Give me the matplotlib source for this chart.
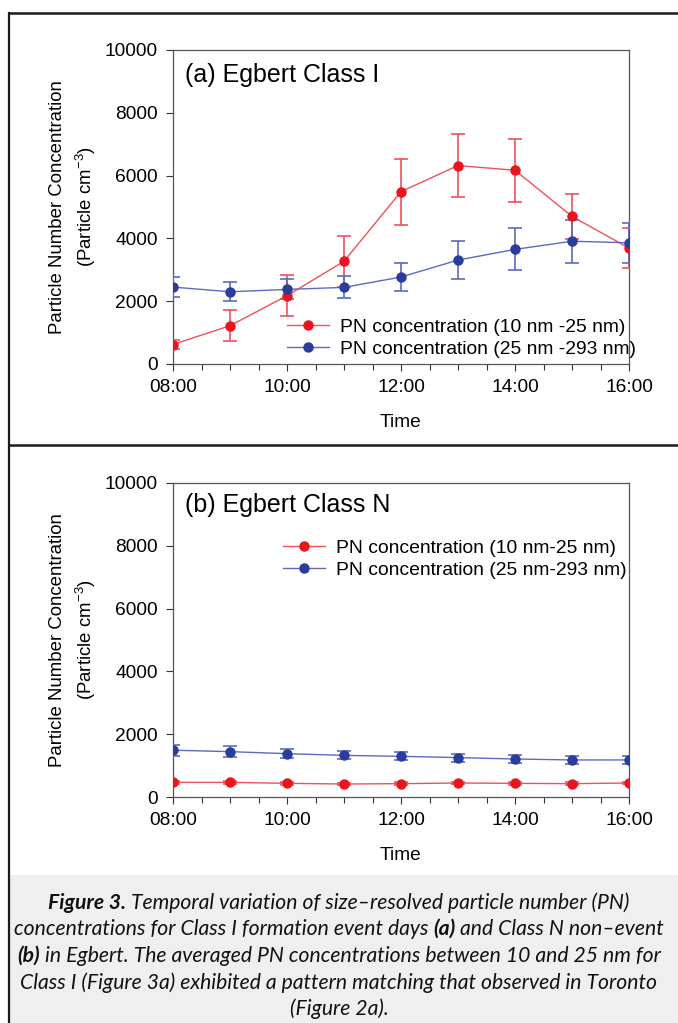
import matplotlib
matplotlib.use("Agg")
import matplotlib.pyplot as plt
from matplotlib.lines import Line2D
from matplotlib.patches import Rectangle
from matplotlib.ticker import MultipleLocator

plt.rcParams['font.family'] = ['Liberation Sans', 'DejaVu Sans']
plt.rcParams['mathtext.fontset'] = 'custom'
plt.rcParams['mathtext.rm'] = 'Liberation Sans'
plt.rcParams['mathtext.it'] = 'Liberation Sans:italic'

# hours of the day
hours = [8, 9, 10, 11, 12, 13, 14, 15, 16]
tick_hours = [8, 10, 12, 14, 16]
tick_labels = ['08:00', '10:00', '12:00', '14:00', '16:00']

# (a) Class I event days
a_small = [620, 1220, 2175, 3270, 5490, 6320, 6170, 4700, 3690]
a_small_err = [130, 490, 660, 820, 1050, 1000, 1010, 720, 640]
a_large = [2450, 2300, 2375, 2440, 2770, 3310, 3650, 3910, 3860]
a_large_err = [320, 300, 320, 350, 440, 600, 670, 680, 640]

# (b) Class N non-event days
b_small = [467, 467, 435, 414, 425, 446, 435, 425, 446]
b_small_err = [40, 40, 40, 40, 40, 40, 40, 40, 40]
b_large = [1490, 1445, 1380, 1325, 1295, 1255, 1210, 1180, 1180]
b_large_err = [180, 170, 150, 130, 130, 130, 130, 130, 140]

RED, RED_L = '#e8141e', '#f0505a'
BLUE, BLUE_L = '#2a3c9c', '#5b6bc0'

W, H = 678, 1023
fig = plt.figure(figsize=(W / 100, H / 100), dpi=100)


def panel(rect, small, small_err, large, large_err, title, title_y, labels, leg_anchor):
    ax = fig.add_axes(rect)
    ax.errorbar(hours, small, yerr=small_err, color=RED_L, lw=1.0, capsize=5,
                elinewidth=1.2, capthick=1.2, marker='o', ms=6.5,
                mfc=RED, mec=RED, zorder=3)
    ax.errorbar(hours, large, yerr=large_err, color=BLUE_L, lw=1.0, capsize=5,
                elinewidth=1.2, capthick=1.2, marker='o', ms=6.5,
                mfc=BLUE, mec=BLUE, zorder=3)
    ax.set_xlim(8, 16)
    ax.set_ylim(0, 10000)
    ax.set_xticks(tick_hours)
    ax.set_xticklabels(tick_labels)
    ax.xaxis.set_minor_locator(MultipleLocator(0.5))
    ax.set_yticks(range(0, 10001, 2000))
    ax.tick_params(axis='both', which='both', direction='out', colors='#333333',
                   labelcolor='black', labelsize=13.8, width=0.8)
    ax.tick_params(axis='both', which='major', length=5, pad=6)
    ax.tick_params(axis='x', which='minor', length=4)
    for s in ax.spines.values():
        s.set_color('#555555')
        s.set_linewidth(0.9)
    ax.set_xlabel('Time', fontsize=13.8, labelpad=13)
    ax.set_ylabel('Particle Number Concentration\n(Particle cm$^{-3}$)',
                  fontsize=13.4, labelpad=5, linespacing=1.4)
    ax.text(0.026, title_y, title, transform=ax.transAxes, fontsize=18,
            va='center', ha='left')
    handles = [Line2D([], [], color=RED_L, marker='o', mfc=RED, mec=RED, ms=6.5, lw=1.0),
               Line2D([], [], color=BLUE_L, marker='o', mfc=BLUE, mec=BLUE, ms=6.5, lw=1.0)]
    ax.legend(handles, labels, loc='upper left', bbox_to_anchor=leg_anchor,
              frameon=False, fontsize=13.9, handlelength=2.2, handletextpad=0.55,
              labelspacing=0.25, borderpad=0, borderaxespad=0)
    return ax


panel([173 / W, 1 - 364 / H, 456 / W, 314 / H], a_small, a_small_err, a_large, a_large_err,
      '(a) Egbert Class I', 0.92,
      ['PN concentration (10 nm -25 nm)', 'PN concentration (25 nm -293 nm)'],
      ((287 - 173) / 456, (364 - 318) / 314))
panel([173 / W, 1 - 797 / H, 456 / W, 314 / H], b_small, b_small_err, b_large, b_large_err,
      '(b) Egbert Class N', 0.93,
      ['PN concentration (10 nm-25 nm)', 'PN concentration (25 nm-293 nm)'],
      ((283 - 173) / 456, (797 - 539) / 314))

# frame lines and caption box
fig.add_artist(Rectangle((9 / W, 0), 1, 1 - 875 / H, transform=fig.transFigure,
                         facecolor='#efefef', edgecolor='none', zorder=0))
fig.add_artist(Line2D([8.5 / W, 8.5 / W], [0, 1 - 13 / H], color='#1a1a1a', lw=1.6))
fig.add_artist(Line2D([8.5 / W, 1], [1 - 13 / H, 1 - 13 / H], color='#1a1a1a', lw=1.8))
fig.add_artist(Line2D([8.5 / W, 1], [1 - 444.5 / H, 1 - 444.5 / H], color='#1a1a1a', lw=1.8))

caption = [
    [('Figure 3.', True), ('Temporal variation of size\u2013resolved particle number (PN)', False)],
    [('concentrations for Class I formation event days', False), ('(a)', True),
     ('and Class N non\u2013event', False)],
    [('(b)', True), ('in Egbert. The averaged PN concentrations between 10 and 25 nm for', False)],
    [('Class I (Figure 3a) exhibited a pattern matching that observed in Toronto', False)],
    [('(Figure 2a).', False)],
]
cap_y = [903, 929, 956, 983, 1009]
cap_font = dict(family=['Lato', 'DejaVu Sans'], style='italic', fontsize=15.2, color='#111111')

fig.canvas.draw()
r = fig.canvas.get_renderer()
t1 = fig.text(0, 0, 'x x', **cap_font)
t2 = fig.text(0, 0, 'xx', **cap_font)
space = t1.get_window_extent(r).width - t2.get_window_extent(r).width
t1.remove()
t2.remove()

for parts, y in zip(caption, cap_y):
    texts = []
    for s, bold in parts:
        t = fig.text(0, 1 - y / H, s, va='center', ha='left',
                     weight='bold' if bold else 'normal', **cap_font)
        texts.append(t)
    widths = [t.get_window_extent(r).width for t in texts]
    total = sum(widths) + space * (len(texts) - 1)
    x = 339 - total / 2
    for t, w in zip(texts, widths):
        t.set_x(x / W)
        x += w + space

fig.savefig('out.png', dpi=100)
